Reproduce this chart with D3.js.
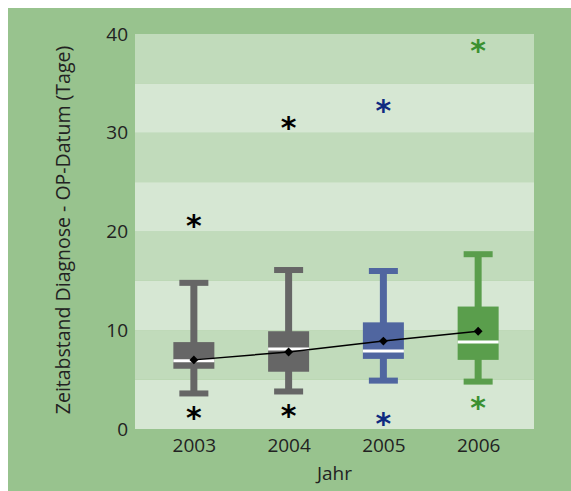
<!DOCTYPE html>
<html>
<head>
<meta charset="utf-8">
<script src="https://cdn.jsdelivr.net/npm/d3@7"></script>
<style>
  body { margin: 0; background: #fff; }
  text { font-family: "Open Sans", sans-serif; }
</style>
</head>
<body>
<svg id="chart" width="571" height="491"></svg>
<script>
// Daten
const years = ["2003", "2004", "2005", "2006"];
const whiskerLow = [3.6, 3.8, 4.9, 4.8];
const q1 = [6.1, 5.8, 7.1, 7.0];
const median = [6.9, 8.1, 7.9, 8.8];
const q3 = [8.8, 9.9, 10.8, 12.4];
const whiskerHigh = [14.8, 16.1, 16.0, 17.7];
const mean = [7.0, 7.8, 8.9, 9.9];
const outlierLow = [1.6, 1.8, 1.0, 2.6];
const outlierHigh = [21.0, 30.9, 32.7, 38.7];
const yTicks = [0, 10, 20, 30, 40];

const boxColors = ["#666666", "#666666", "#5066a0", "#5a9e4c"];
const starColors = ["#000000", "#000000", "#0f2a80", "#3a9030"];

const svg = d3.select("#chart");

// Hintergrund
svg.append("rect")
  .attr("x", 8).attr("y", 8)
  .attr("width", 563).attr("height", 483)
  .attr("fill", "#98c38e");

const plot = { left: 135, right: 534, top: 34, bottom: 429 };

const y = d3.scaleLinear().domain([0, 40]).range([plot.bottom, plot.top]);
const x = d3.scalePoint().domain(years).range([137, 535]).padding(0.6);

// Streifen im Plotbereich (alle 5 Tage)
const bands = d3.range(0, 40, 5);
svg.selectAll(".band")
  .data(bands)
  .enter()
  .append("rect")
  .attr("class", "band")
  .attr("x", plot.left)
  .attr("width", plot.right - plot.left)
  .attr("y", (d) => y(d + 5))
  .attr("height", (d) => y(d) - y(d + 5))
  .attr("fill", (d) => (d / 5) % 2 === 0 ? "#d6e7d3" : "#c1dbbb");

// Achsen
const yAxis = d3.axisLeft(y).tickValues(yTicks).tickSize(0).tickPadding(7);
svg.append("g")
  .attr("transform", `translate(${plot.left},0)`)
  .call(yAxis)
  .call((g) => g.select(".domain").remove())
  .selectAll("text")
  .style("font-size", "19px")
  .style("fill", "#222");

const xAxis = d3.axisBottom(x).tickSize(0).tickPadding(10);
svg.append("g")
  .attr("transform", `translate(0,${plot.bottom})`)
  .call(xAxis)
  .call((g) => g.select(".domain").remove())
  .selectAll("text")
  .style("font-size", "19px")
  .style("fill", "#222");

svg.append("text")
  .attr("x", (plot.left + plot.right) / 2)
  .attr("y", 480)
  .attr("text-anchor", "middle")
  .style("font-size", "19px")
  .style("fill", "#222")
  .text("Jahr");

svg.append("text")
  .attr("transform", `translate(70,${(40 + 420) / 2}) rotate(-90)`)
  .attr("text-anchor", "middle")
  .style("font-size", "19.5px")
  .style("fill", "#222")
  .text("Zeitabstand Diagnose - OP-Datum (Tage)");

// Boxplots
const boxW = 41;
const capW = 29;
const data = years.map((yr, i) => ({
  year: yr, lo: whiskerLow[i], q1: q1[i], med: median[i], q3: q3[i],
  hi: whiskerHigh[i], mean: mean[i], outLo: outlierLow[i], outHi: outlierHigh[i],
  color: boxColors[i], star: starColors[i]
}));

const g = svg.selectAll(".box").data(data).enter().append("g").attr("class", "box");

g.append("line")
  .attr("x1", (d) => x(d.year)).attr("x2", (d) => x(d.year))
  .attr("y1", (d) => y(d.lo)).attr("y2", (d) => y(d.hi))
  .attr("stroke", (d) => d.color).attr("stroke-width", 7);

g.append("rect")
  .attr("x", (d) => x(d.year) - capW / 2).attr("width", capW)
  .attr("y", (d) => y(d.hi) - 3).attr("height", 6)
  .attr("fill", (d) => d.color);

g.append("rect")
  .attr("x", (d) => x(d.year) - capW / 2).attr("width", capW)
  .attr("y", (d) => y(d.lo) - 3).attr("height", 6)
  .attr("fill", (d) => d.color);

g.append("rect")
  .attr("x", (d) => x(d.year) - boxW / 2).attr("width", boxW)
  .attr("y", (d) => y(d.q3)).attr("height", (d) => y(d.q1) - y(d.q3))
  .attr("fill", (d) => d.color);

g.append("line")
  .attr("x1", (d) => x(d.year) - boxW / 2).attr("x2", (d) => x(d.year) + boxW / 2)
  .attr("y1", (d) => y(d.med)).attr("y2", (d) => y(d.med))
  .attr("stroke", "#ffffff").attr("stroke-width", 3);

// Ausreißer als Sternchen (Text "*")
["outLo", "outHi"].forEach((k) => {
  svg.selectAll(".star-" + k)
    .data(data)
    .enter()
    .append("text")
    .attr("class", "star-" + k)
    .attr("x", (d) => x(d.year))
    .attr("y", (d) => y(d[k]) + 14.5)
    .attr("text-anchor", "middle")
    .style("font-family", "DejaVu Sans")
    .style("font-weight", "bold")
    .style("font-size", "30px")
    .style("fill", (d) => d.star)
    .text("*");
});

// Mittelwert-Linie
const line = d3.line().x((d) => x(d.year)).y((d) => y(d.mean));
svg.append("path")
  .datum(data)
  .attr("d", line)
  .attr("fill", "none")
  .attr("stroke", "#000")
  .attr("stroke-width", 1.5);

svg.selectAll(".mean")
  .data(data)
  .enter()
  .append("path")
  .attr("class", "mean")
  .attr("transform", (d) => `translate(${x(d.year)},${y(d.mean)})`)
  .attr("d", d3.symbol().type(d3.symbolDiamond2).size(50))
  .attr("fill", "#000");
</script>
</body>
</html>
